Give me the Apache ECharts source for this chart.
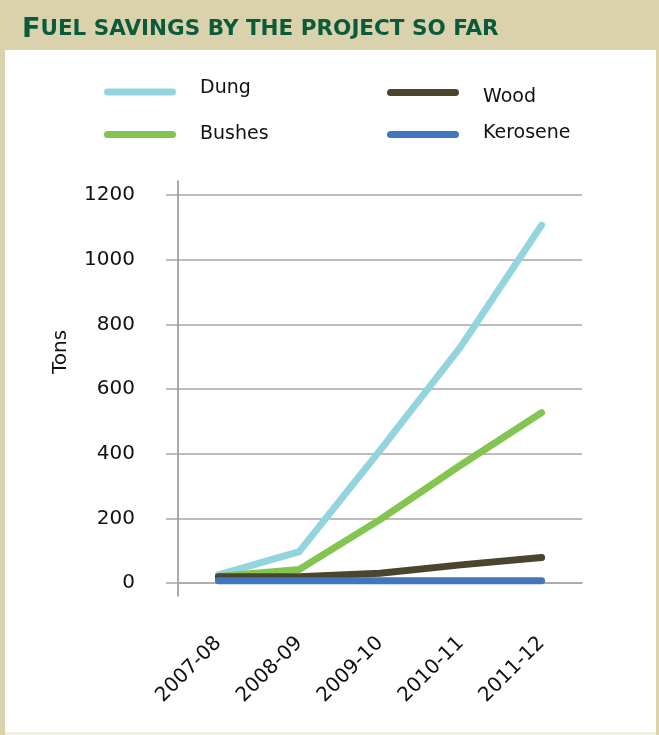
<!DOCTYPE html>
<html>
<head>
<meta charset="utf-8">
<script src="https://cdn.jsdelivr.net/npm/echarts@6/dist/echarts.min.js"></script>
<style>
html,body{margin:0;padding:0;background:#fff;}
#chart{width:659px;height:735px;}
</style>
</head>
<body>
<div id="chart"></div>
<script>
const categories = ['2007-08', '2008-09', '2009-10', '2010-11', '2011-12'];
const dung = [25, 97, 410, 731, 1107];
const bushes = [20, 42, 196, 365, 527];
const wood = [19, 19, 30, 56, 79];
const kerosene = [7, 7, 7, 7, 7];
const yTicks = {min: 0, max: 1200, interval: 200};

const FONT = 'DejaVu Sans';
const colors = {Dung: '#93D4DF', Bushes: '#84C451', Wood: '#4B4530', Kerosene: '#4276BF'};
const capsule = 'path://M3.5,0 L68.5,0 A3.5,3.5 0 0 1 68.5,7 L3.5,7 A3.5,3.5 0 0 1 3.5,0 Z';

function legendFor(name, left, top, pad) {
  return {
    data: [{name: name, icon: capsule}],
    left: left, top: top, padding: 0,
    itemWidth: 72, itemHeight: 7,
    selectedMode: false,
    formatter: '{t|{name}}',
    textStyle: {
      fontFamily: FONT, fontSize: 19, color: '#111',
      rich: {t: {fontFamily: FONT, fontSize: 19, color: '#111', padding: pad}}
    }
  };
}

function lineSeries(name, data) {
  return {
    name: name, type: 'line', data: data,
    xAxisIndex: 0, yAxisIndex: 0,
    symbol: 'none', smooth: false,
    lineStyle: {width: 7, color: colors[name], cap: 'round', join: 'round'},
    itemStyle: {color: colors[name]},
    emphasis: {disabled: true}
  };
}

const chart = echarts.init(document.getElementById('chart'), null, {renderer: 'canvas'});
chart.setOption({
  animation: false,
  backgroundColor: '#ffffff',
  graphic: [
    {type: 'rect', z: -10, shape: {x: 0, y: 0, width: 659, height: 735}, style: {fill: '#DAD2AD'}},
    {type: 'rect', z: -9, shape: {x: 5, y: 50, width: 651, height: 682}, style: {fill: '#ffffff'}},
    {type: 'rect', z: -9, shape: {x: 5, y: 732, width: 651, height: 3}, style: {fill: '#F4F1E4'}}
  ],
  title: {
    text: '{a|F}{b|UEL SAVINGS BY THE PROJECT SO FAR}',
    left: 17, top: 11,
    textStyle: {
      rich: {
        a: {fontFamily: FONT, fontWeight: 'bold', fontSize: 27, color: '#0B5B3B'},
        b: {fontFamily: FONT, fontWeight: 'bold', fontSize: 21.5, color: '#0B5B3B'}
      }
    }
  },
  legend: [
    legendFor('Dung', 104, 79, [0, 0, 7, 19]),
    legendFor('Bushes', 104, 125, [0, 0, 0, 19]),
    legendFor('Wood', 387, 88, [10, 0, 0, 19]),
    legendFor('Kerosene', 387, 124, [0, 0, 2, 19])
  ],
  grid: [
    {left: 178, right: 77, top: 195, bottom: 152, containLabel: false},
    {left: 178, right: 77, top: 181, bottom: 139, containLabel: false}
  ],
  xAxis: [
    {
      type: 'category', data: categories, gridIndex: 0, boundaryGap: true,
      axisLine: {show: true, lineStyle: {color: '#A6A6A6', width: 1.5}},
      axisTick: {show: false},
      axisLabel: {rotate: 45, margin: 57, fontFamily: FONT, fontSize: 20, color: '#111', interval: 0}
    },
    {type: 'category', gridIndex: 1, show: false, data: categories}
  ],
  yAxis: [
    {
      type: 'value', gridIndex: 0,
      min: yTicks.min, max: yTicks.max, interval: yTicks.interval,
      name: 'Tons', nameLocation: 'middle', nameGap: 107, nameRotate: 90,
      nameTextStyle: {fontFamily: FONT, fontSize: 20, color: '#111', padding: [0, 0, 0, 74]},
      axisLine: {show: false},
      axisTick: {show: true, length: 12, lineStyle: {color: '#A6A6A6', width: 1.5}},
      axisLabel: {margin: 43, fontFamily: FONT, fontSize: 20, color: '#111', formatter: function (v) { return String(v); }},
      splitLine: {show: true, lineStyle: {color: '#A6A6A6', width: 1.5}}
    },
    {
      type: 'value', gridIndex: 1, min: 0, max: 1,
      axisLine: {show: true, lineStyle: {color: '#8E8E8E', width: 1.5}},
      axisTick: {show: false}, axisLabel: {show: false}, splitLine: {show: false}
    }
  ],
  series: [
    lineSeries('Dung', dung),
    lineSeries('Bushes', bushes),
    lineSeries('Wood', wood),
    lineSeries('Kerosene', kerosene)
  ]
});
</script>
</body>
</html>
